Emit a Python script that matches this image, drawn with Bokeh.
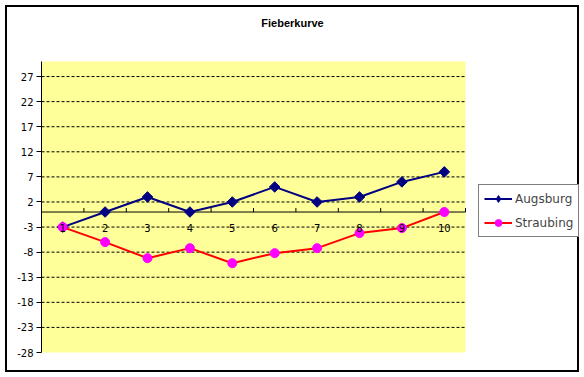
from bokeh.plotting import figure
from bokeh.models import (Range1d, FixedTicker, Legend, LegendItem, Label,
                          ColumnDataSource)
from bokeh.embed import file_html
from bokeh.resources import INLINE
from bokeh.core.properties import value

# ---- data ----
categories = [1, 2, 3, 4, 5, 6, 7, 8, 9, 10]
cat_labels = ["1", "2", "3", "4", "5", "6", "7", "8", "9", "10"]
augsburg = [-3, 0, 3, 0, 2, 5, 2, 3, 6, 8]
straubing = [-3, -6, -9.2, -7.2, -10.2, -8.2, -7.2, -4.2, -3.2, 0]
y_ticks = [-28, -23, -18, -13, -8, -3, 2, 7, 12, 17, 22, 27]
y_tick_labels = ["-28", "-23", "-18", "-13", "-8", "-3", "2", "7", "12", "17", "22", "27"]
y_min, y_max = -28, 30
title_text = "Fieberkurve"

FONT = "DejaVu Sans"

# layout geometry (pixels)
W, H = 584, 377
PL, PR, PT, PB = 41, 465, 61, 352        # yellow plot area
xpx = (PR - PL) / len(categories)        # px per category
ypx = (PB - PT) / (y_max - y_min)        # px per unit
x0 = categories[0] - 0.5
x1 = categories[-1] + 0.5

p = figure(width=W, height=H, output_backend="svg", toolbar_location=None,
           x_range=Range1d(x0, x0 + (W - PL) / xpx),
           y_range=Range1d(y_min - (H - PB) / ypx, y_max + PT / ypx),
           x_axis_location=None, min_border_left=PL, min_border_right=0,
           min_border_top=0, min_border_bottom=0, title=None)
p.background_fill_color = None
p.border_fill_color = None
p.outline_line_color = None
p.styles = {"outline": "2px solid black", "outline-offset": "-7px",
            "background-color": "white"}
p.xgrid.visible = False
p.ygrid.visible = False

# yellow plot area
p.quad(left=[x0], right=[x1], bottom=[y_min], top=[y_max],
       fill_color="#FFFF99", line_color=None)

# y axis
ax = p.yaxis[0]
ax.ticker = FixedTicker(ticks=y_ticks)
ax.major_label_overrides = {t: s for t, s in zip(y_ticks, y_tick_labels)}
ax.bounds = (y_min, y_max)
ax.axis_line_color = "black"
ax.major_tick_line_color = "black"
ax.major_tick_out = 5
ax.major_tick_in = 0
ax.minor_tick_line_color = None
ax.major_label_standoff = 3
ax.major_label_text_font = FONT
ax.major_label_text_font_size = "10px"
ax.major_label_text_color = "black"

# dashed gridlines
gt = [t for t in y_ticks if t > y_min]
p.segment(x0=[x0] * len(gt), y0=gt, x1=[x1] * len(gt), y1=gt,
          line_color="black", line_width=1, line_dash="3 2")

# category axis at y = 0
p.segment(x0=[x0], y0=[0], x1=[x1], y1=[0], line_color="black", line_width=1)
bounds = [c + 0.5 for c in categories]
p.segment(x0=bounds, y0=[0] * len(bounds), x1=bounds, y1=[4 / ypx] * len(bounds),
          line_color="black", line_width=1)

src = ColumnDataSource(dict(x=categories, a=augsburg, s=straubing, lab=cat_labels,
                            zero=[0] * len(categories)))

la = p.line("x", "a", source=src, line_color="#000080", line_width=2)
ma = p.scatter("x", "a", source=src, marker="square", angle=0.785398, size=7.5,
               fill_color="#000080", line_color="#000080")
ls = p.line("x", "s", source=src, line_color="#FF0000", line_width=2)
ms = p.scatter("x", "s", source=src, marker="circle", size=9,
               fill_color="#FF00FF", line_color="#FF00FF")

p.text("x", "zero", text="lab", source=src, y_offset=16, text_align="center",
       text_baseline="middle", text_font=value(FONT), text_font_size="10px",
       text_color="black")

# legend-only proxy for the diamond marker (no drawable point)
nan = float("nan")
leg_a = p.scatter(x=[nan], y=[nan], marker="diamond", size=11,
                  fill_color="#000080", line_color="#000080")

legend = Legend(items=[LegendItem(label="Augsburg", renderers=[la, leg_a]),
                       LegendItem(label="Straubing", renderers=[ls, ms])],
                location=(478 - PL, H - 237), orientation="vertical")
legend.label_text_font = FONT
legend.label_text_font_size = "12px"
legend.glyph_width = 28
legend.glyph_height = 17
legend.label_height = 17
legend.label_standoff = 3
legend.padding = 5
legend.spacing = 7
legend.margin = 0
legend.border_line_color = "black"
legend.border_line_width = 1
legend.background_fill_color = "white"
legend.background_fill_alpha = 1
p.add_layout(legend)

# chart title
p.add_layout(Label(x=x0 + (292 - PL) / xpx, y=y_max + (PT - 22) / ypx, text=title_text,
                   text_align="center", text_baseline="middle",
                   text_font="Liberation Sans", text_font_size="11px",
                   text_font_style="bold", text_color="black"))

open("out.html", "w").write(file_html(p, INLINE))
